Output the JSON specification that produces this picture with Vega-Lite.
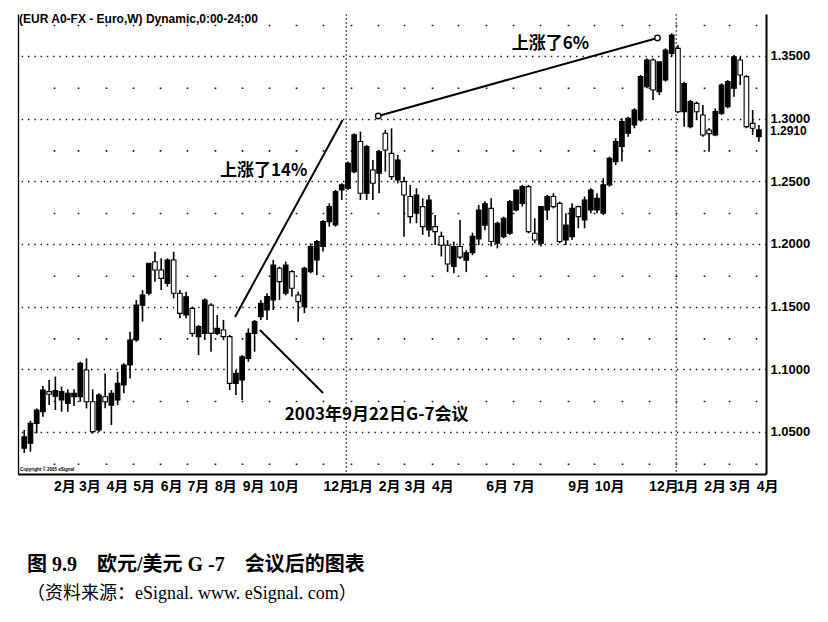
{
  "$schema": "https://vega.github.io/schema/vega-lite/v6.json",
  "width": 748,
  "height": 460,
  "autosize": {"type": "none"},
  "padding": {"left": 18, "top": 14, "right": 62, "bottom": 148},
  "background": "white",
  "title": {
    "text": "图 9.9　欧元/美元 G -7　会议后的图表",
    "subtitle": "（资料来源：eSignal.  www. eSignal. com）",
    "orient": "bottom",
    "anchor": "start",
    "offset": 62,
    "dx": 9,
    "font": "Liberation Serif, Noto Sans CJK SC",
    "fontSize": 20,
    "fontWeight": "bold",
    "color": "black",
    "subtitleFont": "Liberation Serif, Noto Sans CJK SC",
    "subtitleFontSize": 18,
    "subtitleColor": "black",
    "subtitlePadding": 10
  },
  "config": {"view": {"stroke": null}},
  "datasets": {
    "candles": [
      {"d": "2002-12-30", "o": 1.0370, "h": 1.0515, "l": 1.0330, "c": 1.0460},
      {"d": "2003-01-06", "o": 1.0409, "h": 1.0589, "l": 1.0342, "c": 1.0568},
      {"d": "2003-01-13", "o": 1.0568, "h": 1.0688, "l": 1.0488, "c": 1.0675},
      {"d": "2003-01-20", "o": 1.0661, "h": 1.0866, "l": 1.0621, "c": 1.0834},
      {"d": "2003-01-27", "o": 1.0821, "h": 1.0914, "l": 1.0714, "c": 1.0800},
      {"d": "2003-02-03", "o": 1.0785, "h": 1.0941, "l": 1.0675, "c": 1.0830},
      {"d": "2003-02-10", "o": 1.0754, "h": 1.0861, "l": 1.0661, "c": 1.0821},
      {"d": "2003-02-17", "o": 1.0728, "h": 1.0840, "l": 1.0661, "c": 1.0808},
      {"d": "2003-02-24", "o": 1.0781, "h": 1.0840, "l": 1.0706, "c": 1.0808},
      {"d": "2003-03-03", "o": 1.0781, "h": 1.1060, "l": 1.0741, "c": 1.1047},
      {"d": "2003-03-10", "o": 1.0994, "h": 1.1087, "l": 1.0688, "c": 1.0741},
      {"d": "2003-03-17", "o": 1.0741, "h": 1.0840, "l": 1.0488, "c": 1.0502},
      {"d": "2003-03-24", "o": 1.0515, "h": 1.0808, "l": 1.0500, "c": 1.0794},
      {"d": "2003-03-31", "o": 1.0781, "h": 1.0967, "l": 1.0688, "c": 1.0741},
      {"d": "2003-04-07", "o": 1.0714, "h": 1.0834, "l": 1.0555, "c": 1.0808},
      {"d": "2003-04-14", "o": 1.0754, "h": 1.0980, "l": 1.0714, "c": 1.0887},
      {"d": "2003-04-21", "o": 1.0874, "h": 1.1047, "l": 1.0808, "c": 1.1034},
      {"d": "2003-04-28", "o": 1.1034, "h": 1.1300, "l": 1.0927, "c": 1.1233},
      {"d": "2003-05-05", "o": 1.1233, "h": 1.1552, "l": 1.1220, "c": 1.1512},
      {"d": "2003-05-12", "o": 1.1512, "h": 1.1632, "l": 1.1380, "c": 1.1592},
      {"d": "2003-05-19", "o": 1.1606, "h": 1.1845, "l": 1.1590, "c": 1.1845},
      {"d": "2003-05-26", "o": 1.1858, "h": 1.1938, "l": 1.1699, "c": 1.1792},
      {"d": "2003-06-02", "o": 1.1792, "h": 1.1885, "l": 1.1632, "c": 1.1725},
      {"d": "2003-06-09", "o": 1.1685, "h": 1.1885, "l": 1.1659, "c": 1.1872},
      {"d": "2003-06-16", "o": 1.1872, "h": 1.1938, "l": 1.1566, "c": 1.1606},
      {"d": "2003-06-23", "o": 1.1606, "h": 1.1632, "l": 1.1406, "c": 1.1446},
      {"d": "2003-06-30", "o": 1.1433, "h": 1.1619, "l": 1.1406, "c": 1.1579},
      {"d": "2003-07-07", "o": 1.1486, "h": 1.1499, "l": 1.1260, "c": 1.1286},
      {"d": "2003-07-14", "o": 1.1260, "h": 1.1353, "l": 1.1113, "c": 1.1340},
      {"d": "2003-07-21", "o": 1.1286, "h": 1.1566, "l": 1.1233, "c": 1.1552},
      {"d": "2003-07-28", "o": 1.1512, "h": 1.1526, "l": 1.1140, "c": 1.1286},
      {"d": "2003-08-04", "o": 1.1286, "h": 1.1433, "l": 1.1273, "c": 1.1326},
      {"d": "2003-08-11", "o": 1.1313, "h": 1.1393, "l": 1.1233, "c": 1.1260},
      {"d": "2003-08-18", "o": 1.1260, "h": 1.1273, "l": 1.0834, "c": 1.0887},
      {"d": "2003-08-25", "o": 1.0887, "h": 1.0994, "l": 1.0794, "c": 1.0967},
      {"d": "2003-09-01", "o": 1.0914, "h": 1.1113, "l": 1.0754, "c": 1.1100},
      {"d": "2003-09-08", "o": 1.1087, "h": 1.1326, "l": 1.1060, "c": 1.1286},
      {"d": "2003-09-15", "o": 1.1286, "h": 1.1393, "l": 1.1140, "c": 1.1380},
      {"d": "2003-09-22", "o": 1.1420, "h": 1.1553, "l": 1.1393, "c": 1.1526},
      {"d": "2003-09-29", "o": 1.1473, "h": 1.1606, "l": 1.1393, "c": 1.1580},
      {"d": "2003-10-06", "o": 1.1553, "h": 1.1872, "l": 1.1473, "c": 1.1832},
      {"d": "2003-10-13", "o": 1.1806, "h": 1.1819, "l": 1.1553, "c": 1.1699},
      {"d": "2003-10-20", "o": 1.1606, "h": 1.1859, "l": 1.1590, "c": 1.1832},
      {"d": "2003-10-27", "o": 1.1779, "h": 1.1792, "l": 1.1580, "c": 1.1646},
      {"d": "2003-11-03", "o": 1.1593, "h": 1.1619, "l": 1.1380, "c": 1.1540},
      {"d": "2003-11-10", "o": 1.1500, "h": 1.1819, "l": 1.1447, "c": 1.1806},
      {"d": "2003-11-17", "o": 1.1779, "h": 1.2005, "l": 1.1766, "c": 1.1979},
      {"d": "2003-11-24", "o": 1.1872, "h": 1.2032, "l": 1.1752, "c": 1.2019},
      {"d": "2003-12-01", "o": 1.1979, "h": 1.2191, "l": 1.1939, "c": 1.2178},
      {"d": "2003-12-08", "o": 1.2178, "h": 1.2324, "l": 1.2138, "c": 1.2298},
      {"d": "2003-12-15", "o": 1.2151, "h": 1.2431, "l": 1.2138, "c": 1.2418},
      {"d": "2003-12-22", "o": 1.2431, "h": 1.2484, "l": 1.2351, "c": 1.2471},
      {"d": "2003-12-29", "o": 1.2444, "h": 1.2657, "l": 1.2431, "c": 1.2644},
      {"d": "2004-01-05", "o": 1.2577, "h": 1.2883, "l": 1.2564, "c": 1.2870},
      {"d": "2004-01-12", "o": 1.2817, "h": 1.2896, "l": 1.2351, "c": 1.2404},
      {"d": "2004-01-19", "o": 1.2404, "h": 1.2790, "l": 1.2351, "c": 1.2777},
      {"d": "2004-01-26", "o": 1.2590, "h": 1.2670, "l": 1.2351, "c": 1.2484},
      {"d": "2004-02-02", "o": 1.2564, "h": 1.2750, "l": 1.2404, "c": 1.2737},
      {"d": "2004-02-09", "o": 1.2883, "h": 1.2910, "l": 1.2577, "c": 1.2750},
      {"d": "2004-02-16", "o": 1.2723, "h": 1.2923, "l": 1.2511, "c": 1.2537},
      {"d": "2004-02-23", "o": 1.2511, "h": 1.2710, "l": 1.2484, "c": 1.2670},
      {"d": "2004-03-01", "o": 1.2497, "h": 1.2537, "l": 1.2058, "c": 1.2391},
      {"d": "2004-03-08", "o": 1.2378, "h": 1.2471, "l": 1.2165, "c": 1.2218},
      {"d": "2004-03-15", "o": 1.2245, "h": 1.2444, "l": 1.2165, "c": 1.2391},
      {"d": "2004-03-22", "o": 1.2298, "h": 1.2364, "l": 1.2072, "c": 1.2138},
      {"d": "2004-03-29", "o": 1.2112, "h": 1.2391, "l": 1.2058, "c": 1.2351},
      {"d": "2004-04-05", "o": 1.2138, "h": 1.2231, "l": 1.1992, "c": 1.2098},
      {"d": "2004-04-12", "o": 1.2060, "h": 1.2098, "l": 1.1900, "c": 1.1990},
      {"d": "2004-04-19", "o": 1.1990, "h": 1.2030, "l": 1.1775, "c": 1.1840},
      {"d": "2004-04-26", "o": 1.1820, "h": 1.2020, "l": 1.1766, "c": 1.1980},
      {"d": "2004-05-03", "o": 1.1980, "h": 1.2191, "l": 1.1880, "c": 1.1895},
      {"d": "2004-05-10", "o": 1.1870, "h": 1.1950, "l": 1.1775, "c": 1.1930},
      {"d": "2004-05-17", "o": 1.1930, "h": 1.2090, "l": 1.1910, "c": 1.2060},
      {"d": "2004-05-24", "o": 1.2040, "h": 1.2311, "l": 1.1990, "c": 1.2270},
      {"d": "2004-05-31", "o": 1.2150, "h": 1.2340, "l": 1.2110, "c": 1.2320},
      {"d": "2004-06-07", "o": 1.2284, "h": 1.2364, "l": 1.1979, "c": 1.2019},
      {"d": "2004-06-14", "o": 1.2005, "h": 1.2178, "l": 1.1965, "c": 1.2165},
      {"d": "2004-06-21", "o": 1.2058, "h": 1.2218, "l": 1.2045, "c": 1.2205},
      {"d": "2004-06-28", "o": 1.2085, "h": 1.2351, "l": 1.2072, "c": 1.2338},
      {"d": "2004-07-05", "o": 1.2271, "h": 1.2431, "l": 1.2260, "c": 1.2431},
      {"d": "2004-07-12", "o": 1.2324, "h": 1.2471, "l": 1.2298, "c": 1.2457},
      {"d": "2004-07-19", "o": 1.2457, "h": 1.2471, "l": 1.2085, "c": 1.2098},
      {"d": "2004-07-26", "o": 1.2085, "h": 1.2205, "l": 1.2005, "c": 1.2032},
      {"d": "2004-08-02", "o": 1.2005, "h": 1.2298, "l": 1.1979, "c": 1.2298},
      {"d": "2004-08-09", "o": 1.2271, "h": 1.2391, "l": 1.2191, "c": 1.2378},
      {"d": "2004-08-16", "o": 1.2378, "h": 1.2404, "l": 1.2284, "c": 1.2298},
      {"d": "2004-08-23", "o": 1.2324, "h": 1.2338, "l": 1.2005, "c": 1.2019},
      {"d": "2004-08-30", "o": 1.2032, "h": 1.2245, "l": 1.1992, "c": 1.2150},
      {"d": "2004-09-06", "o": 1.2058, "h": 1.2324, "l": 1.2032, "c": 1.2284},
      {"d": "2004-09-13", "o": 1.2298, "h": 1.2305, "l": 1.2125, "c": 1.2218},
      {"d": "2004-09-20", "o": 1.2191, "h": 1.2378, "l": 1.2125, "c": 1.2351},
      {"d": "2004-09-27", "o": 1.2271, "h": 1.2444, "l": 1.2245, "c": 1.2431},
      {"d": "2004-10-04", "o": 1.2271, "h": 1.2404, "l": 1.2245, "c": 1.2364},
      {"d": "2004-10-11", "o": 1.2245, "h": 1.2524, "l": 1.2231, "c": 1.2471},
      {"d": "2004-10-18", "o": 1.2471, "h": 1.2697, "l": 1.2457, "c": 1.2684},
      {"d": "2004-10-25", "o": 1.2657, "h": 1.2843, "l": 1.2630, "c": 1.2817},
      {"d": "2004-11-01", "o": 1.2777, "h": 1.3003, "l": 1.2657, "c": 1.2976},
      {"d": "2004-11-08", "o": 1.2883, "h": 1.3015, "l": 1.2856, "c": 1.3003},
      {"d": "2004-11-15", "o": 1.2949, "h": 1.3083, "l": 1.2923, "c": 1.3069},
      {"d": "2004-11-22", "o": 1.2989, "h": 1.3348, "l": 1.2976, "c": 1.3335},
      {"d": "2004-11-29", "o": 1.3255, "h": 1.3481, "l": 1.3242, "c": 1.3468},
      {"d": "2004-12-06", "o": 1.3468, "h": 1.3481, "l": 1.3149, "c": 1.3228},
      {"d": "2004-12-13", "o": 1.3215, "h": 1.3454, "l": 1.3189, "c": 1.3454},
      {"d": "2004-12-20", "o": 1.3308, "h": 1.3561, "l": 1.3295, "c": 1.3548},
      {"d": "2004-12-27", "o": 1.3521, "h": 1.3681, "l": 1.3494, "c": 1.3667},
      {"d": "2005-01-03", "o": 1.3561, "h": 1.3587, "l": 1.3042, "c": 1.3055},
      {"d": "2005-01-10", "o": 1.3055, "h": 1.3295, "l": 1.2936, "c": 1.3280},
      {"d": "2005-01-17", "o": 1.2936, "h": 1.3149, "l": 1.2923, "c": 1.3136},
      {"d": "2005-01-24", "o": 1.3122, "h": 1.3136, "l": 1.2989, "c": 1.3055},
      {"d": "2005-01-31", "o": 1.3029, "h": 1.3109, "l": 1.2856, "c": 1.2869},
      {"d": "2005-02-07", "o": 1.2909, "h": 1.2925, "l": 1.2736, "c": 1.2880},
      {"d": "2005-02-14", "o": 1.2869, "h": 1.3082, "l": 1.2860, "c": 1.3056},
      {"d": "2005-02-21", "o": 1.3042, "h": 1.3282, "l": 1.3029, "c": 1.3268},
      {"d": "2005-02-28", "o": 1.3096, "h": 1.3308, "l": 1.3082, "c": 1.3295},
      {"d": "2005-03-07", "o": 1.3242, "h": 1.3508, "l": 1.3175, "c": 1.3494},
      {"d": "2005-03-14", "o": 1.3468, "h": 1.3494, "l": 1.3268, "c": 1.3348},
      {"d": "2005-03-21", "o": 1.3335, "h": 1.3348, "l": 1.2923, "c": 1.2936},
      {"d": "2005-03-28", "o": 1.2962, "h": 1.3069, "l": 1.2869, "c": 1.2923},
      {"d": "2005-04-04", "o": 1.2855, "h": 1.2949, "l": 1.2816, "c": 1.2910}
    ],
    "seps": [{"d": "2003-12-27"}, {"d": "2005-01-01"}],
    "lines": [
      {"x1": "2003-08-24", "y1": 1.1417, "x2": "2003-12-23", "y2": 1.2989},
      {"x1": "2003-09-21", "y1": 1.1313, "x2": "2003-12-01", "y2": 1.0810},
      {"x1": "2004-02-01", "y1": 1.3021, "x2": "2004-12-11", "y2": 1.3644}
    ],
    "dots": [
      {"d": "2004-02-01", "p": 1.3021},
      {"d": "2004-12-11", "p": 1.3644}
    ],
    "notes": [
      {"d": "2003-08-07", "p": 1.2582, "t": "上涨了14%"},
      {"d": "2004-06-30", "p": 1.3596, "t": "上涨了6%"},
      {"d": "2003-10-19", "p": 1.0635, "t": "2003年9月22日G-7会议"}
    ],
    "header": [{"d": "2002-12-23", "p": 1.3795, "t": "(EUR A0-FX - Euro,W) Dynamic,0:00-24:00"}],
    "small": [{"d": "2002-12-24", "p": 1.0196, "t": "Copyright © 2005 eSignal"}],
    "last": [{"d": "2005-04-12", "p": 1.2900, "t": "1.2910"}]
  },
  "layer": [
    {
      "data": {"name": "seps"},
      "mark": {"type": "rule", "color": "#222", "strokeWidth": 1, "strokeDash": [2, 2]},
      "encoding": {
        "x": {"field": "d", "type": "temporal"}
      }
    },
    {
      "data": {"name": "candles"},
      "mark": {"type": "rule", "color": "black", "strokeWidth": 1.6},
      "encoding": {
        "x": {
          "field": "d",
          "type": "temporal",
          "scale": {
            "type": "utc",
            "domain": [
              {"year": 2002, "month": 12, "date": 23, "utc": true},
              {"year": 2005, "month": 4, "date": 12, "utc": true}
            ],
            "padding": 0
          },
          "axis": {
            "orient": "bottom",
            "title": null,
            "tickCount": 60,
            "values": [
              {"year": 2003, "month": 2, "date": 1, "utc": true},
              {"year": 2003, "month": 3, "date": 1, "utc": true},
              {"year": 2003, "month": 4, "date": 1, "utc": true},
              {"year": 2003, "month": 5, "date": 1, "utc": true},
              {"year": 2003, "month": 6, "date": 1, "utc": true},
              {"year": 2003, "month": 7, "date": 1, "utc": true},
              {"year": 2003, "month": 8, "date": 1, "utc": true},
              {"year": 2003, "month": 9, "date": 1, "utc": true},
              {"year": 2003, "month": 10, "date": 1, "utc": true},
              {"year": 2003, "month": 11, "date": 1, "utc": true},
              {"year": 2003, "month": 12, "date": 1, "utc": true},
              {"year": 2004, "month": 1, "date": 1, "utc": true},
              {"year": 2004, "month": 2, "date": 1, "utc": true},
              {"year": 2004, "month": 3, "date": 1, "utc": true},
              {"year": 2004, "month": 4, "date": 1, "utc": true},
              {"year": 2004, "month": 5, "date": 1, "utc": true},
              {"year": 2004, "month": 6, "date": 1, "utc": true},
              {"year": 2004, "month": 7, "date": 1, "utc": true},
              {"year": 2004, "month": 8, "date": 1, "utc": true},
              {"year": 2004, "month": 9, "date": 1, "utc": true},
              {"year": 2004, "month": 10, "date": 1, "utc": true},
              {"year": 2004, "month": 11, "date": 1, "utc": true},
              {"year": 2004, "month": 12, "date": 1, "utc": true},
              {"year": 2005, "month": 1, "date": 1, "utc": true},
              {"year": 2005, "month": 2, "date": 1, "utc": true},
              {"year": 2005, "month": 3, "date": 1, "utc": true},
              {"year": 2005, "month": 4, "date": 1, "utc": true}
            ],
            "labelExpr": "indexof(['2003-11','2004-05','2004-08','2004-11'], utcFormat(datum.value, '%Y-%m')) >= 0 ? '' : (utcmonth(datum.value) + 1) + '月'",
            "ticks": false,
            "labelPadding": 5,
            "labelAlign": "left",
            "labelFlush": false,
            "labelOverlap": false,
            "labelFont": "Liberation Sans, Noto Sans CJK SC",
            "labelFontSize": 14,
            "labelFontWeight": "bold",
            "labelColor": "black",
            "domainColor": "black",
            "domainWidth": 2,
            "grid": true,
            "gridColor": "#111",
            "gridWidth": 1.6,
            "gridDash": [1.6, 61.06],
            "gridDashOffset": 52.4
          }
        },
        "y": {
          "field": "l",
          "type": "quantitative",
          "scale": {"domain": [1.0164, 1.3835], "nice": false, "zero": false},
          "axis": {
            "orient": "right",
            "title": null,
            "values": [1.05, 1.1, 1.15, 1.2, 1.25, 1.3, 1.35],
            "format": ".4f",
            "ticks": false,
            "labelPadding": 4,
            "labelFont": "Liberation Sans",
            "labelFontSize": 13,
            "labelFontWeight": "bold",
            "labelColor": "black",
            "domainColor": "black",
            "domainWidth": 2,
            "grid": true,
            "gridColor": "#111",
            "gridWidth": 1.3,
            "gridDash": [1.4, 4.9]
          }
        },
        "y2": {"field": "h"}
      }
    },
    {
      "data": {"name": "candles"},
      "mark": {"type": "bar", "width": 4.6, "stroke": "black", "strokeWidth": 1.1},
      "encoding": {
        "x": {"field": "d", "type": "temporal"},
        "y": {
          "field": "o",
          "type": "quantitative",
          "axis": {
            "orient": "left",
            "title": null,
            "labels": false,
            "ticks": false,
            "grid": false,
            "domainColor": "black",
            "domainWidth": 1.3
          }
        },
        "y2": {"field": "c"},
        "fill": {
          "condition": {"test": "datum.c > datum.o", "value": "black"},
          "value": "white"
        }
      }
    },
    {
      "data": {"name": "lines"},
      "mark": {"type": "rule", "color": "black", "strokeWidth": 2},
      "encoding": {
        "x": {"field": "x1", "type": "temporal"},
        "x2": {"field": "x2"},
        "y": {"field": "y1", "type": "quantitative", "axis": null},
        "y2": {"field": "y2"}
      }
    },
    {
      "data": {"name": "dots"},
      "mark": {"type": "point", "shape": "circle", "size": 30, "filled": true, "fill": "white", "stroke": "black", "strokeWidth": 1.3, "opacity": 1},
      "encoding": {
        "x": {"field": "d", "type": "temporal"},
        "y": {"field": "p", "type": "quantitative", "axis": null}
      }
    },
    {
      "data": {"name": "notes"},
      "mark": {"type": "text", "align": "left", "baseline": "middle", "font": "Noto Sans CJK SC", "fontSize": 17, "fontWeight": "bold", "color": "black"},
      "encoding": {
        "x": {"field": "d", "type": "temporal"},
        "y": {"field": "p", "type": "quantitative", "axis": null},
        "text": {"field": "t"}
      }
    },
    {
      "data": {"name": "header"},
      "mark": {"type": "text", "align": "left", "baseline": "middle", "dx": 1, "font": "Liberation Sans", "fontSize": 12, "fontWeight": "bold", "color": "black"},
      "encoding": {
        "x": {"field": "d", "type": "temporal"},
        "y": {"field": "p", "type": "quantitative", "axis": null},
        "text": {"field": "t"}
      }
    },
    {
      "data": {"name": "small"},
      "mark": {"type": "text", "align": "left", "baseline": "middle", "dx": 1, "font": "Liberation Sans", "fontSize": 4.5, "fontWeight": "bold", "color": "black"},
      "encoding": {
        "x": {"field": "d", "type": "temporal"},
        "y": {"field": "p", "type": "quantitative", "axis": null},
        "text": {"field": "t"}
      }
    },
    {
      "data": {"name": "last"},
      "mark": {"type": "text", "align": "left", "baseline": "middle", "dx": 4, "font": "Liberation Sans", "fontSize": 12, "fontWeight": "bold", "color": "black"},
      "encoding": {
        "x": {"field": "d", "type": "temporal"},
        "y": {"field": "p", "type": "quantitative", "axis": null},
        "text": {"field": "t"}
      }
    }
  ],
  "resolve": {"axis": {"y": "independent"}}
}
